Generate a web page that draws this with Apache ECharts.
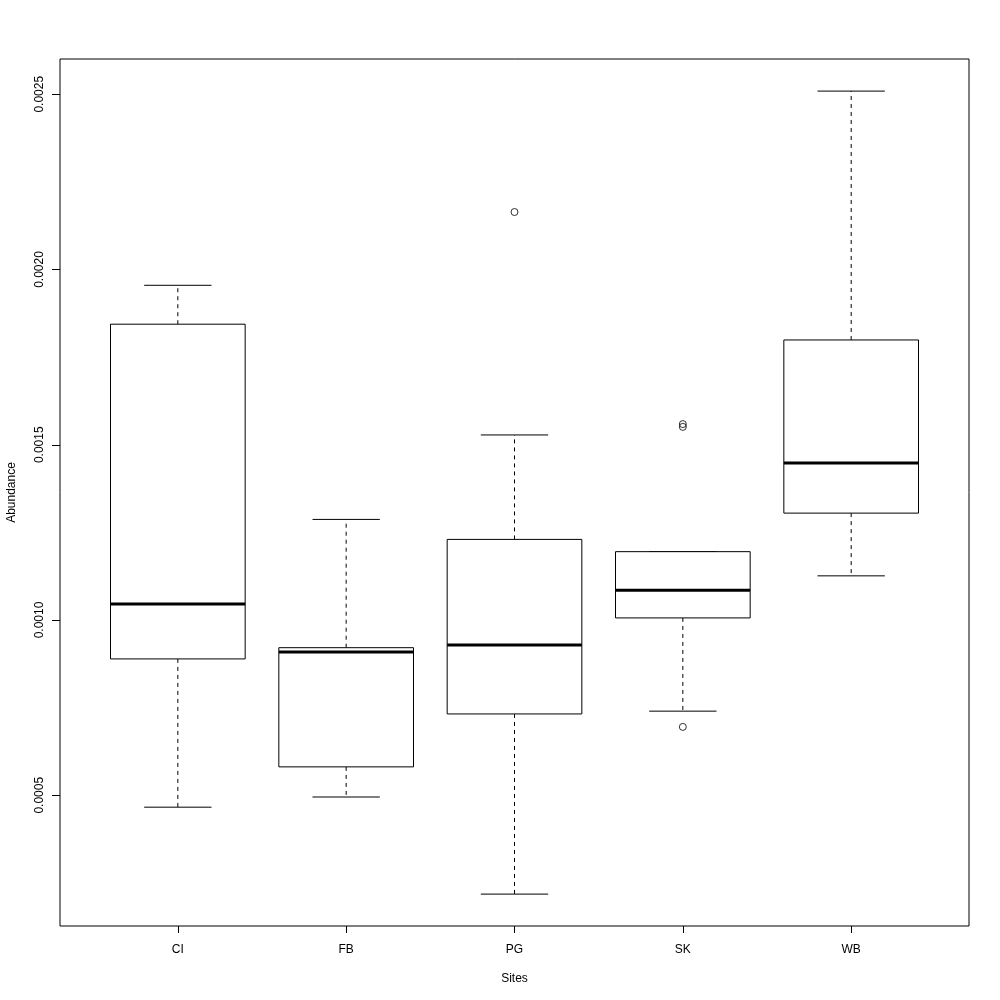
<!DOCTYPE html>
<html>
<head>
<meta charset="utf-8">
<script src="https://cdn.jsdelivr.net/npm/echarts@6/dist/echarts.min.js"></script>
<style>html,body{margin:0;padding:0;background:#fff}#c{width:1000px;height:1000px}</style>
</head>
<body>
<div id="c"></div>
<script>
const categories = ['CI', 'FB', 'PG', 'SK', 'WB'];
const lowWhisker = [0.000466, 0.000495, 0.000218, 0.000740, 0.001126];
const q1Values = [0.000889, 0.000581, 0.000732, 0.001006, 0.001305];
const medians = [0.001046, 0.000909, 0.000929, 0.001085, 0.001448];
const q3Values = [0.001844, 0.000921, 0.001230, 0.001195, 0.001799];
const highWhisker = [0.001955, 0.001287, 0.001528, 0.001195, 0.002509];
const outlierSite = ['PG', 'SK', 'SK', 'SK'];
const outlierValue = [0.002164, 0.001559, 0.001551, 0.000695];
const yTicks = [0.0005, 0.0010, 0.0015, 0.0020, 0.0025];

const boxData = categories.map((c, i) => [i + 1, lowWhisker[i], q1Values[i], medians[i], q3Values[i], highWhisker[i]]);
const outlierData = outlierSite.map((s, i) => [categories.indexOf(s) + 1, outlierValue[i]]);
const font = 'Liberation Sans, Arial, Helvetica, sans-serif';

const chart = echarts.init(document.getElementById('c'), null, {renderer: 'canvas'});
chart.setOption({
  animation: false,
  backgroundColor: '#fff',
  grid: {left: 60, right: 31, top: 59, bottom: 74, show: true, borderColor: '#000', borderWidth: 1,
    backgroundColor: 'transparent', containLabel: false, outerBoundsMode: 'none'},
  xAxis: {
    type: 'value', min: 0.3, max: 5.7,
    name: 'Sites', nameLocation: 'middle', nameGap: 47,
    nameTextStyle: {fontFamily: font, fontSize: 12, color: '#000'},
    axisLine: {show: false},
    splitLine: {show: false},
    axisTick: {show: true, length: 7, lineStyle: {color: '#000'}, customValues: [1, 2, 3, 4, 5]},
    axisLabel: {customValues: [1, 2, 3, 4, 5], margin: 18, color: '#000', fontFamily: font, fontSize: 12,
      formatter: v => categories[Math.round(v) - 1] || ''}
  },
  yAxis: {
    type: 'value', min: 0.000127, max: 0.0026006,
    name: 'Abundance', nameLocation: 'middle', nameGap: 42, nameRotate: 90,
    nameTextStyle: {fontFamily: font, fontSize: 12, color: '#000'},
    axisLine: {show: false},
    splitLine: {show: false},
    axisTick: {show: true, length: 8, lineStyle: {color: '#000'}, customValues: yTicks},
    axisLabel: {customValues: yTicks, rotate: 90, margin: 14, color: '#000', fontFamily: font, fontSize: 12,
      formatter: v => v.toFixed(4)}
  },
  series: [
    {
      type: 'custom',
      data: boxData,
      renderItem: function (params, api) {
        const x = api.value(0), lo = api.value(1), q1 = api.value(2), md = api.value(3), q3 = api.value(4), hi = api.value(5);
        const hw = 0.4, cw = 0.2;
        const pL = api.coord([x - hw, q3]), pR = api.coord([x + hw, q1]);
        const pC = api.coord([x, md]);
        const yLo = api.coord([x, lo])[1], yHi = api.coord([x, hi])[1], yQ1 = pR[1], yQ3 = pL[1];
        const cL = api.coord([x - cw, lo])[0], cR = api.coord([x + cw, lo])[0];
        const dash = {stroke: '#000', lineWidth: 1, lineDash: [4, 4]};
        return {
          type: 'group',
          children: [
            {type: 'line', shape: {x1: pC[0], y1: yQ1, x2: pC[0], y2: yLo}, style: dash},
            {type: 'line', shape: {x1: pC[0], y1: yQ3, x2: pC[0], y2: yHi}, style: dash},
            {type: 'line', shape: {x1: cL, y1: yLo, x2: cR, y2: yLo}, style: {stroke: '#000', lineWidth: 1}},
            {type: 'line', shape: {x1: cL, y1: yHi, x2: cR, y2: yHi}, style: {stroke: '#000', lineWidth: 1}},
            {type: 'rect', shape: {x: pL[0], y: yQ3, width: pR[0] - pL[0], height: yQ1 - yQ3}, style: {stroke: '#000', lineWidth: 1, fill: '#fff'}},
            {type: 'line', shape: {x1: pL[0], y1: pC[1], x2: pR[0], y2: pC[1]}, style: {stroke: '#000', lineWidth: 3}}
          ]
        };
      }
    },
    {
      type: 'scatter',
      data: outlierData,
      symbol: 'circle',
      symbolSize: 7,
      itemStyle: {color: 'transparent', borderColor: '#000', borderWidth: 1}
    }
  ]
});
</script>
</body>
</html>
